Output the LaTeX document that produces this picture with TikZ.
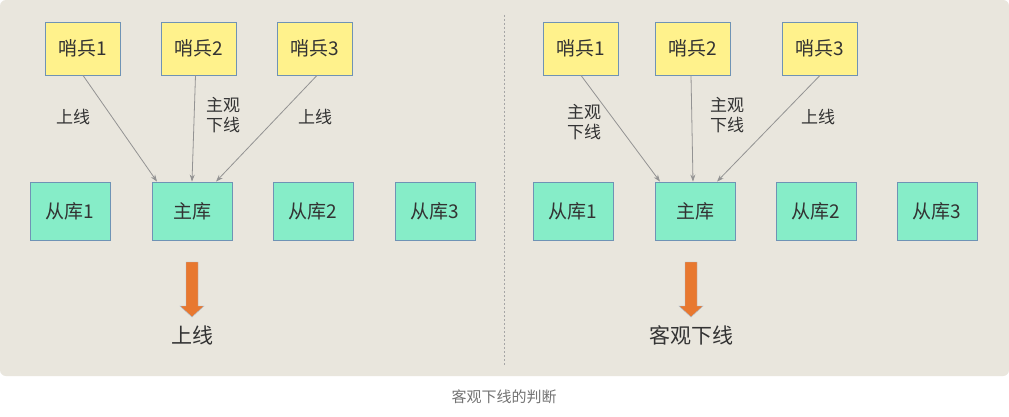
\documentclass[tikz,border=0pt]{standalone}
\usepackage{fontspec}
\setmainfont{Liberation Sans}
\newfontfamily\cjk{Noto Sans CJK SC}
\usetikzlibrary{arrows.meta}
\definecolor{bg}{HTML}{E9E6DD}
\definecolor{yel}{HTML}{FFF28C}
\definecolor{grn}{HTML}{86EDC8}
\definecolor{bd}{HTML}{6F93B5}
\definecolor{org}{HTML}{E8782F}
\definecolor{txt}{HTML}{333333}
\begin{document}
\begin{tikzpicture}[x=1pt,y=-1pt,
  sen/.style={draw=bd,fill=yel,line width=0.8pt,minimum width=75pt,minimum height=53pt,inner sep=0pt,font=\cjk\fontsize{19}{19}\selectfont,text=txt},
  db/.style={draw=bd,fill=grn,line width=0.8pt,minimum width=80pt,minimum height=58pt,inner sep=0pt,font=\cjk\fontsize{19}{19}\selectfont,text=txt},
  arr/.style={draw=gray!85,line width=0.8pt,-{Stealth[length=7pt,width=5pt]}},
  lab/.style={font=\cjk\fontsize{17}{20}\selectfont,text=txt,align=center},
  big/.style={font=\cjk\fontsize{21}{21}\selectfont,text=txt},
  oa/.style={fill=org,draw=bd!60,line width=0.4pt}]
\useasboundingbox (0,0) rectangle (1009,417);
\fill[white] (0,0) rectangle (1009,417);
\fill[bg,rounded corners=6pt] (0,0) rectangle (1009,376);
\draw[gray!70,dash pattern=on 2pt off 2pt,line width=0.8pt] (504,15) -- (504,366);
\node[font=\cjk\fontsize{15}{15}\selectfont,text=gray!90!black] (cap) at (504,397) {客观下线的判断};
% left
\node[sen] (a1) at (83,48.5) {哨兵1};
\node[sen] (a2) at (198.5,48.5) {哨兵2};
\node[sen] (a3) at (315,48.5) {哨兵3};
\node[db] (s1) at (70,211) {从库1};
\node[db] (m) at (192,211) {主库};
\node[db] (s2) at (313,211) {从库2};
\node[db] (s3) at (435,211) {从库3};
\draw[arr] (a1.south) -- ([xshift=-35pt]m.north);
\draw[arr] ([xshift=-3pt]a2.south) -- (m.north);
\draw[arr] ([xshift=2pt]a3.south) -- ([xshift=24pt]m.north);
\node[lab] (l1) at (73,117) {上线};
\node[lab] (l2) at (223,115) {主观\\下线};
\node[lab] (l3) at (315,117) {上线};
\draw[oa] (186,262) -- (198,262) -- (198,306) -- (204,306) -- (192,317) -- (180,306) -- (186,306) -- cycle;
\node[big] (r1) at (192,335) {上线};
% right
\node[sen] (b1) at (581,48.5) {哨兵1};
\node[sen] (b2) at (693,48.5) {哨兵2};
\node[sen] (b3) at (820,48.5) {哨兵3};
\node[db] (t1) at (573,211) {从库1};
\node[db] (n) at (695,211) {主库};
\node[db] (t2) at (816,211) {从库2};
\node[db] (t3) at (937,211) {从库3};
\draw[arr] (b1.south) -- ([xshift=-35pt]n.north);
\draw[arr] ([xshift=-2pt]b2.south) -- ([xshift=-2pt]n.north);
\draw[arr] (b3.south) -- ([xshift=22pt]n.north);
\node[lab] (k1) at (584,122) {主观\\下线};
\node[lab] (k2) at (727,115) {主观\\下线};
\node[lab] (k3) at (818,117) {上线};
\draw[oa] (685,262) -- (697,262) -- (697,306) -- (703,306) -- (691,317) -- (679,306) -- (685,306) -- cycle;
\node[big] (r2) at (691,335) {客观下线};
\end{tikzpicture}
\end{document}
